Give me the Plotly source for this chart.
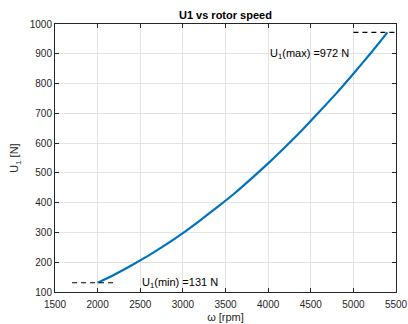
import plotly.graph_objects as go

# rotor speed [rpm] and resulting force U1 [N]
omega_rpm = [2000, 2200, 2400, 2600, 2800, 3000, 3200, 3400, 3600,
             3800, 4000, 4200, 4400, 4600, 4800, 5000, 5200, 5400]
u1_newton = [131, 159, 190, 223, 259, 298, 340, 384, 430,
             480, 532, 587, 644, 705, 767, 833, 901, 972]

u1_min = 131
u1_max = 972
min_marker_x = [1700, 2200]
max_marker_x = [5000, 5500]

x_ticks = [1500, 2000, 2500, 3000, 3500, 4000, 4500, 5000, 5500]
y_ticks = [100, 200, 300, 400, 500, 600, 700, 800, 900, 1000]

FONT = "Liberation Sans, Arial, Helvetica, sans-serif"
AX = "#262626"

fig = go.Figure()
fig.add_trace(go.Scatter(
    x=omega_rpm, y=u1_newton, mode="lines",
    line=dict(color="#0072BD", width=2.2, shape="spline", smoothing=0.6),
    showlegend=False, hoverinfo="skip"))
fig.add_trace(go.Scatter(
    x=min_marker_x, y=[u1_min, u1_min], mode="lines",
    line=dict(color="black", width=1.2, dash="5px,4px"),
    showlegend=False, hoverinfo="skip"))
fig.add_trace(go.Scatter(
    x=max_marker_x, y=[u1_max, u1_max], mode="lines",
    line=dict(color="black", width=1.2, dash="5px,4px"),
    showlegend=False, hoverinfo="skip"))

fig.add_annotation(x=2500, y=u1_min, text=f"U<sub>1</sub>(min) ={u1_min} N",
                   showarrow=False, xanchor="left", yanchor="middle",
                   font=dict(family=FONT, size=11, color="black"))
fig.add_annotation(x=4000, y=900, text=f"U<sub>1</sub>(max) ={u1_max} N",
                   showarrow=False, xanchor="left", yanchor="middle",
                   font=dict(family=FONT, size=11, color="black"))

axis_common = dict(
    showline=True, mirror="ticks", linecolor=AX, linewidth=1,
    ticks="inside", ticklen=4, tickcolor=AX, tickwidth=1,
    showgrid=True, gridcolor="#e3e3e3", gridwidth=1, zeroline=False,
    automargin=False,
    tickfont=dict(family=FONT, size=10, color=AX),
)

fig.update_layout(
    width=408, height=324,
    margin=dict(l=55, r=12, t=24, b=32),
    paper_bgcolor="white", plot_bgcolor="white",
    title=dict(text="<b>U1 vs rotor speed</b>", x=0.5525, xanchor="center",
               y=0.953, yanchor="middle",
               font=dict(family=FONT, size=11, color="black")),
    xaxis=dict(range=[1500, 5500], tickvals=x_ticks, ticklabelstandoff=3,
               title=dict(text="\u03c9 [rpm]", standoff=4,
                          font=dict(family=FONT, size=11, color=AX)),
               **axis_common),
    yaxis=dict(range=[100, 1000], tickvals=y_ticks,
               title=dict(text="U<sub>1</sub> [N]", standoff=8,
                          font=dict(family=FONT, size=11, color=AX)),
               **axis_common),
)

fig.write_html("out.html")
